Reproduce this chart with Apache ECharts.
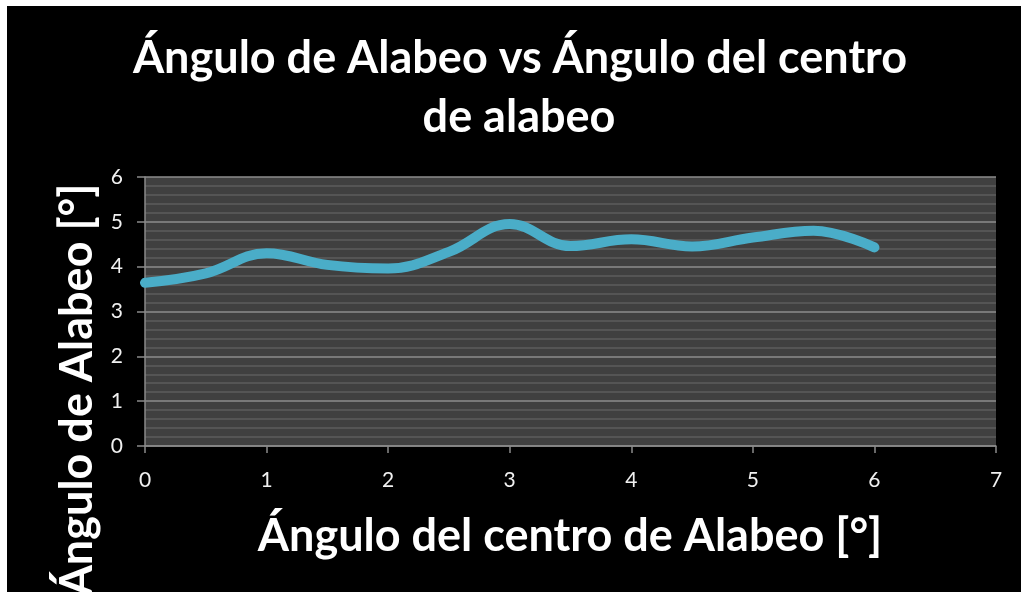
<!DOCTYPE html>
<html>
<head>
<meta charset="utf-8">
<script src="https://cdn.jsdelivr.net/npm/echarts@6/dist/echarts.min.js"></script>
<style>
html,body{margin:0;padding:0;background:#fff;}
#c{width:1021px;height:592px;}
</style>
</head>
<body>
<div id="c"></div>
<script>
const xValues = [0, 0.5, 1, 1.5, 2, 2.5, 3, 3.5, 4, 4.5, 5, 5.5, 6];
const yValues = [3.64, 3.85, 4.30, 4.04, 3.96, 4.33, 4.95, 4.46, 4.61, 4.45, 4.65, 4.80, 4.43];
const titleLines = ['Ángulo de Alabeo vs Ángulo del centro', 'de alabeo'];
const xName = 'Ángulo del centro de Alabeo [°]';
const yName = 'Ángulo de Alabeo [°]';

const FONT = 'Lato, "Open Sans", sans-serif';
const chart = echarts.init(document.getElementById('c'));
chart.setOption({
  backgroundColor: '#000',
  animation: false,
  graphic: [
    {type:'rect', shape:{x:0,y:0,width:1021,height:6}, style:{fill:'#fff'}, z:100},
    {type:'rect', shape:{x:0,y:0,width:7,height:592}, style:{fill:'#fff'}, z:100},
    {type:'text', style:{text: titleLines[0], x:520, y:58, fill:'#fff', font:'bold 45px ' + FONT, textAlign:'center', textVerticalAlign:'middle'}},
    {type:'text', style:{text: titleLines[1], x:519, y:117, fill:'#fff', font:'bold 45px ' + FONT, textAlign:'center', textVerticalAlign:'middle'}},
    {type:'text', style:{text: xName, x:570, y:536, fill:'#fff', font:'bold 45px ' + FONT, textAlign:'center', textVerticalAlign:'middle'}},
    {type:'text', x:77, y:390, rotation: Math.PI/2, style:{text: yName, x:0, y:0, fill:'#fff', font:'bold 45px ' + FONT, textAlign:'center', textVerticalAlign:'middle'}}
  ],
  grid: {left:145, top:177, right:25, bottom:146, show:true, backgroundColor:'#404040', borderWidth:0},
  xAxis: {
    type:'value', min:0, max:7, interval:1,
    axisLine:{show:true, onZero:false, lineStyle:{color:'#8a8a8a', width:1.5}},
    axisTick:{show:true, length:7, lineStyle:{color:'#8a8a8a', width:1.5}},
    axisLabel:{color:'#f0f0f0', fontSize:21, fontFamily:FONT, margin:24},
    splitLine:{show:false}
  },
  yAxis: {
    type:'value', min:0, max:6, interval:1,
    axisLine:{show:true, onZero:false, lineStyle:{color:'#8a8a8a', width:1.5}},
    axisTick:{show:true, length:8, lineStyle:{color:'#8a8a8a', width:1.5}},
    axisLabel:{color:'#f0f0f0', fontSize:21, fontFamily:FONT, margin:22},
    splitLine:{show:true, lineStyle:{color:'#8c8c8c', width:1.5}},
    minorTick:{show:false, splitNumber:5},
    minorSplitLine:{show:true, lineStyle:{color:'#5c5c5c', width:1.5}}
  },
  series: [{
    type:'line', smooth:0.4, showSymbol:false,
    data: xValues.map((x,i)=>[x, yValues[i]]),
    lineStyle:{color:'#4aadc8', width:10, cap:'round'}
  }]
});
</script>
</body>
</html>
